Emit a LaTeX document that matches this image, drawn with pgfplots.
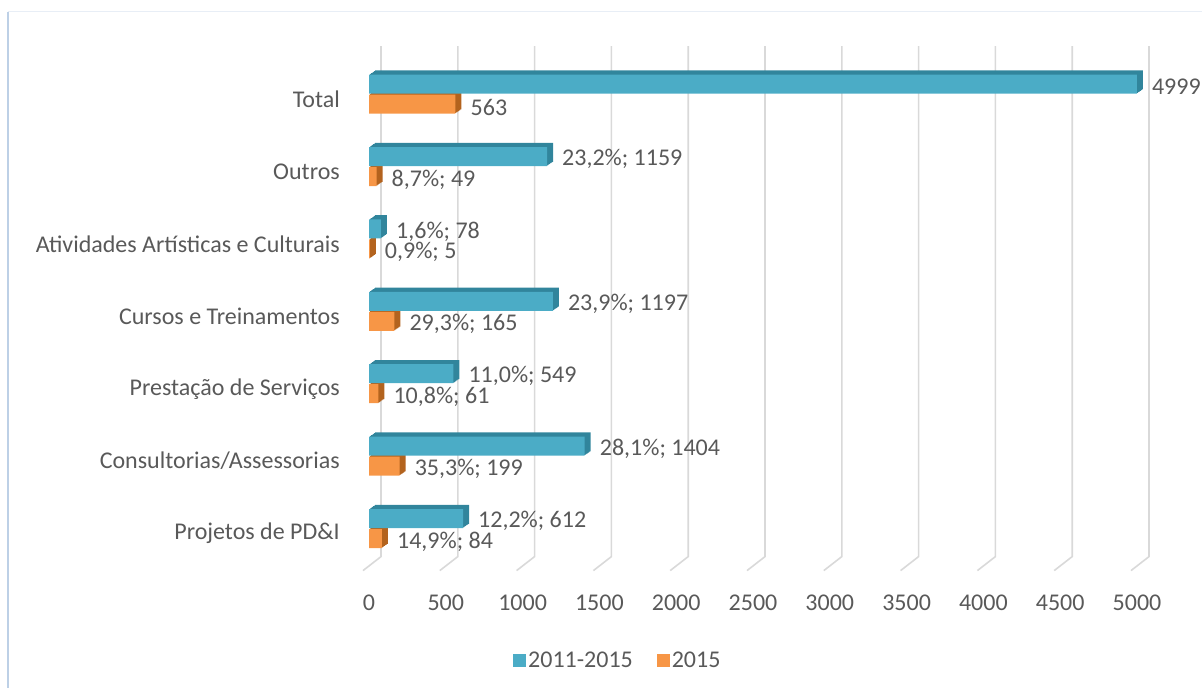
\documentclass[border=0pt]{standalone}
\usepackage{pgfplots}
\pgfplotsset{compat=1.18}
\usepackage{pgfplotstable}
\usepackage{fontspec}
\setmainfont{Carlito}
\definecolor{teal1}{HTML}{4BACC6}
\definecolor{teal2}{HTML}{31859C}
\definecolor{orange1}{HTML}{F79646}
\definecolor{orange2}{HTML}{B3631E}
\definecolor{txt}{HTML}{595959}
\definecolor{gridc}{HTML}{D9D9D9}
\definecolor{framec}{HTML}{BDD0E6}
\newcommand{\fs}{\fontsize{24bp}{28bp}\selectfont}
\newcommand*{\semi}{\char"3B}

\pgfplotstableread{
idx a alab b blab
0 612 {12,2\%\semi\ 612} 84 {14,9\%\semi\ 84}
1 1404 {28,1\%\semi\ 1404} 199 {35,3\%\semi\ 199}
2 549 {11,0\%\semi\ 549} 61 {10,8\%\semi\ 61}
3 1197 {23,9\%\semi\ 1197} 165 {29,3\%\semi\ 165}
4 78 {1,6\%\semi\ 78} 5 {0,9\%\semi\ 5}
5 1159 {23,2\%\semi\ 1159} 49 {8,7\%\semi\ 49}
6 4999 {4999} 563 {563}
}\datatable

\begin{document}
\begin{tikzpicture}
\path[use as bounding box] (0,0) rectangle (1202bp,688bp);
\draw[framec, line width=2bp] (8bp,0) -- (8bp,676bp);
\draw[framec!35, line width=1bp] (8bp,676bp) -- (1202bp,676bp);
\begin{axis}[
  at={(369bp,126.9bp)}, anchor=south west,
  scale only axis, width=768bp, height=510.4bp,
  xmin=0, xmax=5000, ymin=-0.45, ymax=6.6,
  axis line style={draw=none}, tick style={draw=none},
  xtick={0,500,...,5000}, ytick={0,...,6},
  yticklabels={Projetos de PD\&I, Consultorias/Assessorias, Prestação de Serviços, Cursos e Treinamentos, Atividades Artísticas e Culturais, Outros, Total},
  /pgf/number format/1000 sep={},
  /pgf/number format/assume math mode=true,
  xticklabel style={font=\fs, text=txt, anchor=center, yshift=-42bp},
  yticklabel style={font=\fs, text=txt, anchor=east, inner sep=0pt, xshift=-29bp, yshift=-5bp},
  every node near coord/.append style={font=\fs, text=txt, anchor=west, inner sep=0pt, xshift=15bp},
  legend columns=2,
  legend style={draw=none, fill=none, at={(0.324,-0.194)}, anchor=center, font=\fs, text=txt,
    /tikz/every even column/.append style={column sep=22bp}},
  legend image code/.code={\fill[#1] (-3bp,-6.5bp) rectangle (10bp,6.5bp);},
  clip=false,
]
\pgfplotsinvokeforeach{0,500,...,5000}{
  \draw[gridc, line width=1.6bp] ([xshift=12bp,yshift=4.5bp]axis cs:#1,6.6) -- ([xshift=12bp,yshift=4.5bp]axis cs:#1,-0.45) -- ([xshift=-6bp,yshift=-9.5bp]axis cs:#1,-0.45);
}
\pgfplotsinvokeforeach{1,...,6}{
  \addplot[xbar, forget plot, bar width=19bp, bar shift=10bp, fill=teal2, draw=none, xshift=#1bp, yshift={0.7*#1bp}] table[x=a,y=idx]{\datatable};
  \addplot[xbar, forget plot, bar width=19bp, bar shift=-10bp, fill=orange2, draw=none, xshift=#1bp, yshift={0.7*#1bp}] table[x=b,y=idx]{\datatable};
}
\addplot[xbar, bar width=19bp, bar shift=10bp, fill=teal1, draw=none, nodes near coords, point meta=explicit symbolic,
  every node near coord/.append style={yshift=7.5bp}] table[x=a,y=idx,meta=alab]{\datatable};
\addlegendentry{2011-2015}
\addplot[xbar, bar width=19bp, bar shift=-10bp, fill=orange1, draw=none, nodes near coords, point meta=explicit symbolic,
  every node near coord/.append style={yshift=-13bp}] table[x=b,y=idx,meta=blab]{\datatable};
\addlegendentry{2015}
\end{axis}
\end{tikzpicture}
\end{document}
